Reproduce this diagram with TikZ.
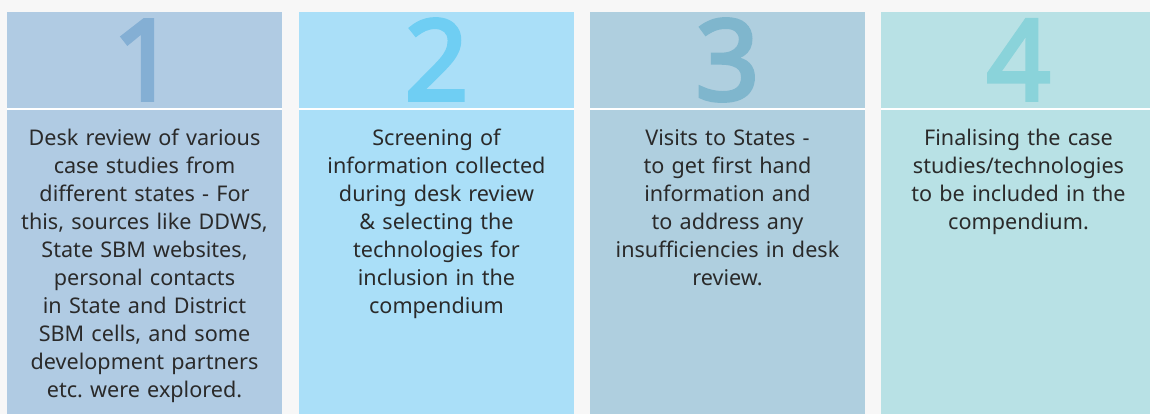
\documentclass[tikz,border=0pt]{standalone}
\usepackage{fontspec}
\setmainfont{Noto Sans}
\newfontfamily\stepnumfont{Noto Sans}[FakeBold=3.2]
\begin{document}
\frenchspacing
\definecolor{pagebg}{HTML}{F7F7F7}
\definecolor{txt}{HTML}{2A2A2A}
\definecolor{fillA}{HTML}{B0CBE3}\definecolor{numA}{HTML}{84AFD4}
\definecolor{fillB}{HTML}{AADFF8}\definecolor{numB}{HTML}{6FCEF3}
\definecolor{fillC}{HTML}{AFCFDF}\definecolor{numC}{HTML}{7FB6CD}
\definecolor{fillD}{HTML}{B8E1E5}\definecolor{numD}{HTML}{8AD3DA}
\begin{tikzpicture}[x=1pt,y=1pt,
  bignum/.style={anchor=base, inner sep=0pt, font=\fontsize{112}{112}\selectfont\stepnumfont},
  steptext/.style={anchor=base, inner sep=0pt, text width=274pt, align=center,
    text=txt, font=\fontsize{21.6}{28}\selectfont},
  divider/.style={white, line width=2.2pt}]
  % page background fixes the size
  \fill[pagebg] (0,0) rectangle (1150,414);
  \useasboundingbox (0,0) rectangle (1150,414);
  \clip (0,0) rectangle (1150,414);
  % four columns: left edge, fill, number colour, number
  \foreach \x/\fc/\nc/\n/\id in {7/fillA/numA/1/a, 299/fillB/numB/2/b, 590/fillC/numC/3/c, 881/fillD/numD/4/d}{
    \fill[\fc] (\x,0) rectangle ++(275,402);
    \draw[divider] (\x,305) -- ++(275,0);
    \node[bignum, text=\nc] (num\id) at (\x+137.5,314) {\n};
  }
  \node[steptext] (ta) at (144.5,268) {Desk review of various\\case studies from\\different states - For\\this, sources like DDWS,\\State SBM websites,\\personal contacts\\in State and District\\SBM cells, and some\\development partners\\etc. were explored.};
  \node[steptext] (tb) at (436.5,268) {Screening of\\information collected\\during desk review\\\& selecting the\\technologies for\\inclusion in the\\compendium};
  \node[steptext] (tc) at (727.5,268) {Visits to States -\\to get first hand\\information and\\to address any\\insufficiencies in desk\\review.};
  \node[steptext] (td) at (1018.5,268) {Finalising the case\\studies/technologies\\to be included in the\\compendium.};
\end{tikzpicture}
\end{document}
